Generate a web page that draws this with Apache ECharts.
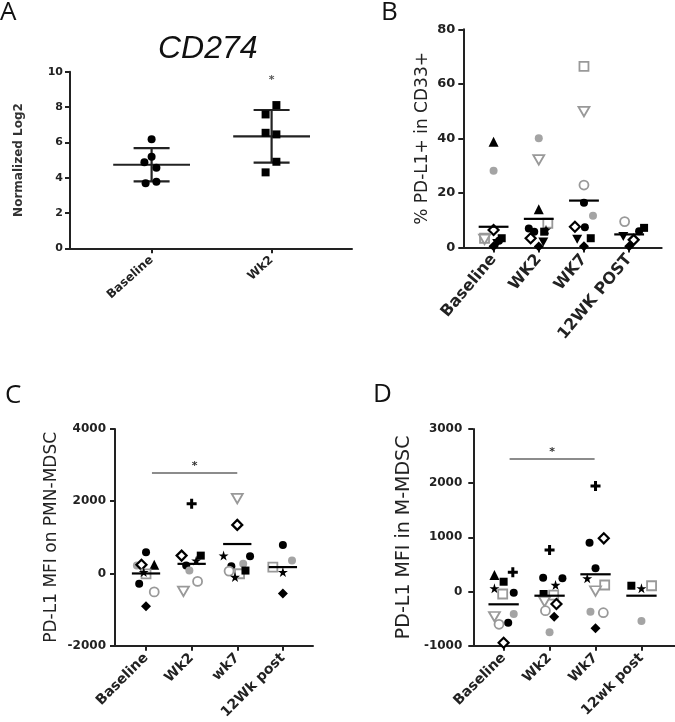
<!DOCTYPE html>
<html><head><meta charset="utf-8">
<script src="https://cdn.jsdelivr.net/npm/echarts@6/dist/echarts.min.js"></script>
<style>html,body{margin:0;padding:0;background:#fff}#c{width:675px;height:722px}</style>
</head><body><div id="c"></div>
<script>
// ================= DATA =================
// point = [category index (1-based), jitter offset (category widths), value, subject marker]

// Panel A : CD274, normalized log2
const aCategories = ['Baseline', 'Wk2'];
const aPoints = [
  [1, 0.00, 6.17, 'bc'], [1, 0.00, 5.18, 'bc'], [1, -0.06, 4.87, 'bc'],
  [1, 0.04, 4.56, 'bc'], [1, -0.05, 3.68, 'bc'], [1, 0.04, 3.77, 'bc'],
  [2, 0.04, 8.11, 'bs'], [2, -0.05, 7.58, 'bs'], [2, -0.05, 6.54, 'bs'],
  [2, 0.04, 6.45, 'bs'], [2, 0.04, 4.90, 'bs'], [2, -0.05, 4.30, 'bs']
];
const aMeans = [4.73, 6.34];
const aSD = [0.945, 1.49];
const aStar = [2.0, 9.5];

// Panel B : % PD-L1+ in CD33+
const bCategories = ['Baseline', 'WK2', 'WK7', '12WK POST'];
const bPoints = [
  [1, 0.00, 38.8, 'bt'], [1, 0.00, 28.1, 'gf'], [1, 0.00, 6.4, 'od'],
  [1, -0.20, 3.4, 'gs'], [1, -0.20, 3.0, 'gv'], [1, 0.18, 3.4, 'bs'],
  [1, 0.08, 1.5, 'bv'], [1, 0.00, 0.5, 'bd'], [1, 0.12, 2.5, 'bc'],
  [2, 0.00, 40.1, 'gf'], [2, 0.00, 32.1, 'gv'], [2, 0.00, 14.0, 'bt'],
  [2, 0.20, 8.9, 'gs'], [2, -0.22, 7.0, 'bc'], [2, -0.10, 5.8, 'bc'],
  [2, -0.18, 3.4, 'od'], [2, 0.12, 5.8, 'bs'], [2, 0.16, 6.5, 'bst'],
  [2, 0.00, 0.4, 'bd'], [2, 0.10, 2.0, 'bv'],
  [3, 0.00, 66.4, 'gs'], [3, 0.00, 49.8, 'gv'], [3, 0.00, 22.9, 'gc'],
  [3, 0.00, 16.4, 'bc'], [3, 0.20, 11.6, 'gf'], [3, -0.20, 7.6, 'od'],
  [3, 0.02, 7.4, 'bc'], [3, -0.15, 3.0, 'bv'], [3, 0.15, 3.4, 'bs'],
  [3, 0.00, 0.5, 'bd'],
  [4, -0.10, 9.5, 'gc'], [4, 0.33, 7.2, 'bs'], [4, 0.22, 6.0, 'bc'],
  [4, 0.10, 2.8, 'od'], [4, -0.13, 4.0, 'bv'], [4, 0.00, 0.5, 'bd']
];
const bMeans = [7.6, 10.5, 17.2, 4.8];

// Panel C : PD-L1 MFI on PMN-MDSC
const cCategories = ['Baseline', 'Wk2', 'wk7', '12Wk post'];
const cPoints = [
  [1, 0.00, 588, 'bc'], [1, -0.20, 220, 'gf'], [1, -0.10, 239, 'od'],
  [1, 0.18, 239, 'bt'], [1, 0.00, -10, 'gs'], [1, -0.05, 38, 'bst'],
  [1, -0.15, -283, 'bc'], [1, 0.18, -511, 'gc'], [1, 0.00, -906, 'bd'],
  [2, 0.00, 1933, 'bp'], [2, -0.22, 494, 'od'], [2, 0.20, 494, 'bs'],
  [2, -0.12, 220, 'bc'], [2, 0.10, 357, 'bst'], [2, -0.05, 82, 'gf'],
  [2, 0.13, -220, 'gc'], [2, -0.18, -494, 'gv'],
  [3, 0.00, 2070, 'gv'], [3, 0.00, 1345, 'od'], [3, -0.30, 494, 'bst'],
  [3, 0.28, 478, 'bc'], [3, -0.13, 203, 'bc'], [3, 0.13, 266, 'gf'],
  [3, -0.18, 66, 'gc'], [3, 0.05, -8, 'gs'], [3, 0.18, 80, 'bs'],
  [3, -0.05, -99, 'bst'],
  [4, 0.00, 788, 'bc'], [4, 0.20, 357, 'gf'], [4, -0.22, 176, 'gs'],
  [4, 0.00, 38, 'bst'], [4, 0.00, -557, 'bd']
];
const cMeans = [0, 266, 815, 176];
const cSig = [1.13, 3.0, 2784];

// Panel D : PD-L1 MFI in M-MDSC
const dCategories = ['Baseline', 'Wk2', 'Wk7', '12wk post'];
const dPoints = [
  [1, 0.20, 354, 'bp'], [1, -0.20, 305, 'bt'], [1, 0.00, 181, 'bs'],
  [1, -0.20, 59, 'bst'], [1, 0.22, -22, 'bc'], [1, -0.02, -46, 'gs'],
  [1, -0.20, -465, 'gv'], [1, 0.22, -415, 'gf'], [1, -0.10, -605, 'gc'],
  [1, 0.10, -576, 'bc'], [1, 0.00, -945, 'od'],
  [2, 0.00, 766, 'bp'], [2, -0.14, 255, 'bc'], [2, 0.28, 244, 'bc'],
  [2, 0.13, 120, 'bst'], [2, -0.13, -46, 'bs'], [2, 0.09, -65, 'gs'],
  [2, -0.11, -188, 'gv'], [2, 0.15, -231, 'od'], [2, -0.09, -354, 'gc'],
  [2, 0.10, -465, 'bd'], [2, 0.00, -753, 'gf'],
  [3, 0.00, 1948, 'bp'], [3, 0.18, 982, 'od'], [3, -0.13, 901, 'bc'],
  [3, 0.00, 428, 'bc'], [3, -0.18, 244, 'bst'], [3, 0.20, 120, 'gs'],
  [3, 0.00, 9, 'gv'], [3, -0.11, -373, 'gf'], [3, 0.17, -391, 'gc'],
  [3, 0.00, -679, 'bd'],
  [4, -0.22, 107, 'bs'], [4, 0.00, 59, 'bst'], [4, 0.22, 107, 'gs'],
  [4, 0.00, -545, 'gf']
];
const dMeans = [-236, -77, 318, -77];
const dSig = [1.13, 2.98, 2446];

// ================= STYLE =================
const STAR = 'path://M0,-10L2.245,-3.09L9.511,-3.09L3.633,1.18L5.878,8.09L0,3.82L-5.878,8.09L-3.633,1.18L-9.511,-3.09L-2.245,-3.09Z';
const PLUS = 'path://M-3,-10H3V-3H10V3H3V10H-3V3H-10V-3H-3Z';
const INV = 'path://M-10,-8.66L10,-8.66L0,8.66Z';
const GRAY = '#999';
const markers = {
  bc: {symbol: 'circle', size: 8, fill: '#000'},
  bs: {symbol: 'rect', size: 8, fill: '#000'},
  bt: {symbol: 'triangle', size: 10, fill: '#000'},
  bv: {symbol: INV, size: [10, 9], fill: '#000'},
  bd: {symbol: 'diamond', size: 10, fill: '#000'},
  bst: {symbol: STAR, size: 10, fill: '#000'},
  bp: {symbol: PLUS, size: 10, fill: '#000'},
  od: {symbol: 'diamond', size: 10, fill: '#fff', stroke: '#000', lw: 2.2},
  gc: {symbol: 'circle', size: 9, fill: '#fff', stroke: GRAY, lw: 1.8},
  gs: {symbol: 'rect', size: 9, fill: '#fff', stroke: GRAY, lw: 1.8},
  gv: {symbol: INV, size: [11, 9.5], fill: '#fff', stroke: GRAY, lw: 1.8},
  gf: {symbol: 'circle', size: 8, fill: '#a4a4a4'}
};
const AX = '#222';
const BOLD = {fontFamily: 'DejaVu Sans', fontWeight: 'bold', color: AX};

function pointData(points) {
  return points.map(p => {
    const m = markers[p[3]];
    return {
      value: [p[0] + p[1], p[2]],
      symbol: m.symbol,
      symbolSize: m.size,
      itemStyle: {color: m.fill, borderColor: m.stroke || m.fill, borderWidth: m.stroke ? m.lw : 0, opacity: 1}
    };
  });
}

function xAxis(gridIndex, cats, min, max, fontSize, rotate, margin) {
  const vals = cats.map((_, i) => i + 1);
  return {
    type: 'value', gridIndex, min, max,
    splitLine: {show: false},
    axisLine: {onZero: false, lineStyle: {color: AX, width: 2}},
    axisTick: {customValues: vals, length: 5, lineStyle: {color: AX, width: 2}},
    axisLabel: Object.assign({customValues: vals, rotate, margin, fontSize,
      formatter: v => cats[Math.round(v) - 1] || ''}, BOLD)
  };
}
function yAxis(gridIndex, min, max, interval, fontSize, margin, name, nameSize, nameGap, nameBold) {
  return {
    type: 'value', gridIndex, min, max, interval,
    splitLine: {show: false},
    axisLine: {show: true, onZero: false, lineStyle: {color: AX, width: 2}},
    axisTick: {show: true, length: 5, lineStyle: {color: AX, width: 2}},
    axisLabel: Object.assign({fontSize, margin, formatter: v => String(v)}, BOLD),
    name, nameLocation: 'middle', nameGap,
    nameTextStyle: {fontFamily: 'DejaVu Sans', fontWeight: nameBold ? 'bold' : 'normal', fontSize: nameSize, color: nameBold ? '#333' : AX}
  };
}

function meanSeries(idx, means, hw) {
  return {
    type: 'custom', xAxisIndex: idx, yAxisIndex: idx, z: 3,
    data: means.map((m, i) => [i + 1, m]),
    renderItem: (params, api) => {
      const x = api.value(0), y = api.value(1);
      const p1 = api.coord([x - hw, y]), p2 = api.coord([x + hw, y]);
      return {type: 'line', shape: {x1: p1[0], y1: p1[1], x2: p2[0], y2: p2[1]}, style: {stroke: '#000', lineWidth: 2.2}};
    }
  };
}
function sigSeries(idx, sig) {
  return {
    type: 'custom', xAxisIndex: idx, yAxisIndex: idx, z: 3,
    data: [sig],
    renderItem: (params, api) => {
      const p1 = api.coord([api.value(0), api.value(2)]);
      const p2 = api.coord([api.value(1), api.value(2)]);
      return {type: 'group', children: [
        {type: 'line', shape: {x1: p1[0], y1: p1[1], x2: p2[0], y2: p2[1]}, style: {stroke: '#666', lineWidth: 1.5}},
        {type: 'text', x: (p1[0] + p2[0]) / 2, y: p1[1] - 7,
          style: {text: '*', fill: '#333', font: 'bold 11px DejaVu Sans', align: 'center', verticalAlign: 'middle'}}
      ]};
    }
  };
}

const option = {
  animation: false,
  backgroundColor: '#fff',
  textStyle: {fontFamily: 'DejaVu Sans'},
  title: [
    {text: 'A', left: 0, top: 0, padding: 0, textStyle: {fontFamily: 'Open Sans', fontWeight: 'normal', fontSize: 26, color: '#111'}},
    {text: 'B', left: 381, top: 0, padding: 0, textStyle: {fontFamily: 'Open Sans', fontWeight: 'normal', fontSize: 26, color: '#111'}},
    {text: 'C', left: 5, top: 383, padding: 0, textStyle: {fontFamily: 'Open Sans', fontWeight: 'normal', fontSize: 26, color: '#111'}},
    {text: 'D', left: 373, top: 382, padding: 0, textStyle: {fontFamily: 'Open Sans', fontWeight: 'normal', fontSize: 26, color: '#111'}},
    {text: 'CD274', left: 158, top: 33, padding: 0, textStyle: {fontFamily: 'Liberation Sans', fontStyle: 'italic', fontWeight: 'normal', fontSize: 32, color: '#111'}}
  ],
  grid: [
    {left: 70, top: 71.7, width: 282, height: 176.6},
    {left: 463.3, top: 29.3, width: 198.4, height: 218.2},
    {left: 115, top: 429, width: 198, height: 218.5},
    {left: 473.3, top: 429, width: 201.7, height: 216.7}
  ],
  xAxis: [
    xAxis(0, aCategories, 0.32, 2.67, 12, 42, 10),
    xAxis(1, bCategories, 0.33, 4.72, 16, 50, 9),
    xAxis(2, cCategories, 0.32, 4.66, 14, 45, 10),
    xAxis(3, dCategories, 0.34, 4.73, 14, 45, 10)
  ],
  yAxis: [
    yAxis(0, 0, 10, 2, 11, 7, 'Normalized Log2', 12, 45, true),
    yAxis(1, 0, 80, 20, 13, 8, '% PD-L1+ in CD33+', 17, 32, false),
    yAxis(2, -2000, 4000, 2000, 12, 9, 'PD-L1 MFI on PMN-MDSC', 17, 55, false),
    yAxis(3, -1000, 3000, 1000, 12, 11, 'PD-L1 MFI in M-MDSC', 19, 60, false)
  ],
  series: [
    // Panel A: mean and SD
    {
      type: 'custom', xAxisIndex: 0, yAxisIndex: 0, z: 3,
      data: aMeans.map((m, i) => [i + 1, m, aSD[i]]),
      renderItem: (params, api) => {
        const x = api.value(0), m = api.value(1), s = api.value(2);
        const L = (a, b) => ({type: 'line', shape: {x1: a[0], y1: a[1], x2: b[0], y2: b[1]}, style: {stroke: '#222', lineWidth: 2.2}});
        return {type: 'group', children: [
          L(api.coord([x - 0.32, m]), api.coord([x + 0.32, m])),
          L(api.coord([x, m - s]), api.coord([x, m + s])),
          L(api.coord([x - 0.15, m + s]), api.coord([x + 0.15, m + s])),
          L(api.coord([x - 0.15, m - s]), api.coord([x + 0.15, m - s]))
        ]};
      }
    },
    {
      type: 'custom', xAxisIndex: 0, yAxisIndex: 0, z: 3,
      data: [aStar],
      renderItem: (params, api) => {
        const p = api.coord([api.value(0), api.value(1)]);
        return {type: 'text', x: p[0], y: p[1], style: {text: '*', fill: '#555', font: 'bold 11px DejaVu Sans', align: 'center', verticalAlign: 'middle'}};
      }
    },
    {type: 'scatter', xAxisIndex: 0, yAxisIndex: 0, z: 4, clip: false, data: pointData(aPoints)},
    // Panel B
    meanSeries(1, bMeans, 0.33),
    {type: 'scatter', xAxisIndex: 1, yAxisIndex: 1, z: 2, clip: false, data: pointData(bPoints)},
    // Panel C
    meanSeries(2, cMeans, 0.31),
    sigSeries(2, cSig),
    {type: 'scatter', xAxisIndex: 2, yAxisIndex: 2, z: 2, clip: false, data: pointData(cPoints)},
    // Panel D
    meanSeries(3, dMeans, 0.33),
    sigSeries(3, dSig),
    {type: 'scatter', xAxisIndex: 3, yAxisIndex: 3, z: 2, clip: false, data: pointData(dPoints)}
  ]
};

const chart = echarts.init(document.getElementById('c'), null, {renderer: 'canvas'});
chart.setOption(option);
</script>
</body></html>
